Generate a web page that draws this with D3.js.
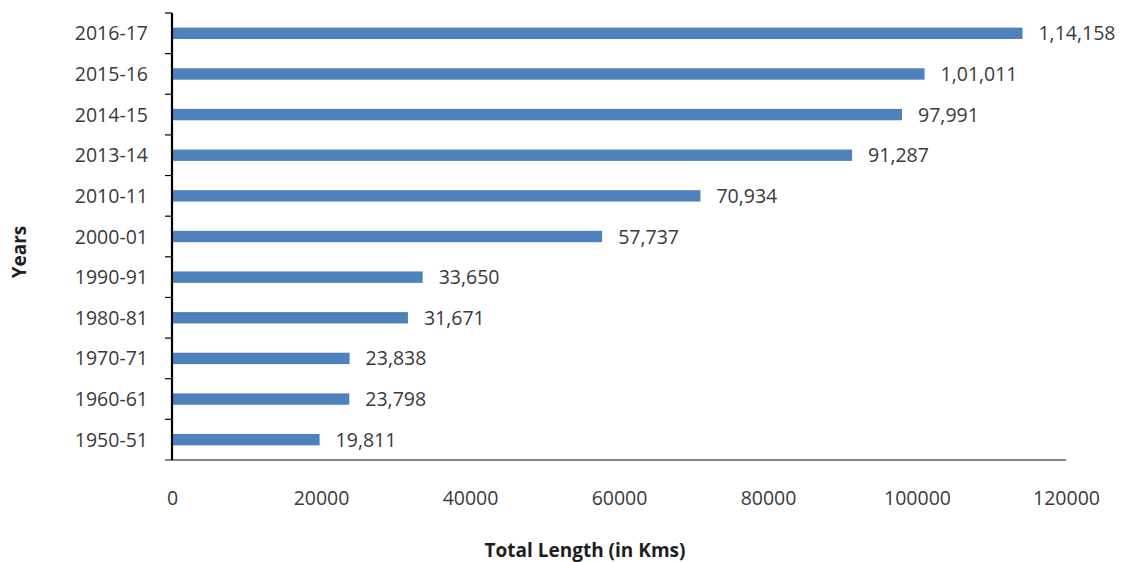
<!DOCTYPE html>
<html>
<head>
<meta charset="utf-8">
<script src="https://cdn.jsdelivr.net/npm/d3@7"></script>
<style>
  html, body { margin: 0; padding: 0; background: #fff; }
  svg { display: block; font-family: "Open Sans", sans-serif; }
</style>
</head>
<body>
<svg id="chart" width="1132" height="562"></svg>
<script>
// Road network length by year (km)
const years = ["2016-17", "2015-16", "2014-15", "2013-14", "2010-11", "2000-01",
               "1990-91", "1980-81", "1970-71", "1960-61", "1950-51"];
const lengths = [114158, 101011, 97991, 91287, 70934, 57737,
                 33650, 31671, 23838, 23798, 19811];
const valueLabels = ["1,14,158", "1,01,011", "97,991", "91,287", "70,934", "57,737",
                     "33,650", "31,671", "23,838", "23,798", "19,811"];
const xTicks = [0, 20000, 40000, 60000, 80000, 100000, 120000];

(function draw() {
  const svg = d3.select("#chart");
  const plotLeft = 172, plotRight = 1066, plotTop = 13, plotBottom = 460;
  const textColor = "#3a3a3a";
  const labelSize = 19.5;

  const x = d3.scaleLinear().domain([0, 120000]).range([plotLeft, plotRight]);
  const y = d3.scaleBand().domain(years).range([plotTop, plotBottom])
    .paddingInner(0.72).paddingOuter(0.36);
  const gap = (y.step() - y.bandwidth()) / 2;

  // bars
  svg.selectAll("rect.bar")
    .data(years)
    .enter().append("rect")
    .attr("class", "bar")
    .attr("x", x(0))
    .attr("y", d => y(d))
    .attr("width", (d, i) => x(lengths[i]) - x(0))
    .attr("height", y.bandwidth())
    .attr("fill", "#4F81BD");

  // value labels
  svg.selectAll("text.val")
    .data(years)
    .enter().append("text")
    .attr("class", "val")
    .attr("x", (d, i) => x(lengths[i]) + 16)
    .attr("y", d => y(d) + y.bandwidth() / 2)
    .attr("dy", "0.36em")
    .attr("font-size", labelSize)
    .attr("fill", textColor)
    .text((d, i) => valueLabels[i]);

  // x axis: gray baseline, labels only
  const xAxis = svg.append("g")
    .attr("transform", `translate(0,${plotBottom})`)
    .call(d3.axisBottom(x).tickValues(xTicks).tickSize(0).tickPadding(31).tickFormat(d3.format("d")));
  xAxis.select(".domain").attr("stroke", "#868686").attr("stroke-width", 2.2)
    .attr("d", `M${plotLeft - 7},0H${plotRight}`);
  xAxis.selectAll("text").attr("font-size", labelSize).attr("fill", textColor)
    .attr("font-family", "Open Sans, sans-serif");

  // y axis: black line with ticks at category boundaries
  const yAxis = svg.append("g").attr("transform", `translate(${plotLeft},0)`);
  yAxis.selectAll("line.tick")
    .data(years)
    .enter().append("line")
    .attr("class", "tick")
    .attr("x1", -7).attr("x2", 0)
    .attr("y1", d => y(d) - gap)
    .attr("y2", d => y(d) - gap)
    .attr("stroke", "#000").attr("stroke-width", 1.2);
  yAxis.append("line")
    .attr("x1", 0).attr("x2", 0).attr("y1", plotTop).attr("y2", plotBottom)
    .attr("stroke", "#000").attr("stroke-width", 2.2);
  yAxis.selectAll("text")
    .data(years)
    .enter().append("text")
    .attr("x", -24)
    .attr("y", d => y(d) + y.bandwidth() / 2)
    .attr("dy", "0.36em")
    .attr("text-anchor", "end")
    .attr("font-size", labelSize)
    .attr("fill", textColor)
    .text(d => d);

  // axis titles
  svg.append("text")
    .attr("x", 585).attr("y", 550).attr("dy", "0.35em")
    .attr("text-anchor", "middle")
    .attr("font-size", 19).attr("font-weight", "bold").attr("fill", "#1e1e1e")
    .text("Total Length (in Kms)");
  svg.append("text")
    .attr("transform", "translate(19,252) rotate(-90)")
    .attr("dy", "0.35em")
    .attr("text-anchor", "middle")
    .attr("font-size", 19).attr("font-weight", "bold").attr("fill", "#1e1e1e")
    .text("Years");
})();
</script>
</body>
</html>
